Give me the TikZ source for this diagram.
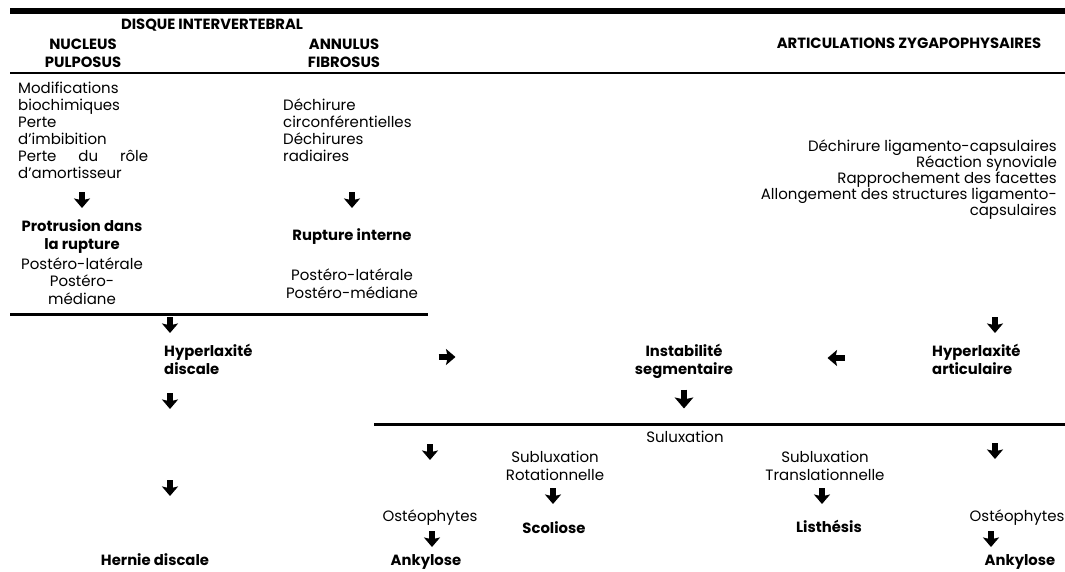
\documentclass[tikz,border=0pt]{standalone}
\usepackage{fontspec}
\setmainfont{Poppins}
\usetikzlibrary{arrows.meta}
\newcommand\gdown[3]{\coordinate (#1s) at (#2,#3-8); \coordinate (#1e) at (#2,#3+8); \draw[glyph] (#1s) -- (#1e);}
\newcommand\gbig[3]{\coordinate (#1s) at (#2,#3-9.5); \coordinate (#1e) at (#2,#3+9.5); \draw[glyphbig] (#1s) -- (#1e);}
\newcommand\gright[3]{\coordinate (#1s) at (#2-8.5,#3); \coordinate (#1e) at (#2+8.5,#3); \draw[glyph] (#1s) -- (#1e);}
\newcommand\gleft[3]{\coordinate (#1s) at (#2+8.5,#3); \coordinate (#1e) at (#2-8.5,#3); \draw[glyph] (#1s) -- (#1e);}
\tikzset{
 reg/.style={inner sep=0pt, anchor=base, font=\fontsize{15}{17}\selectfont},
 regl/.style={reg, anchor=base west},
 regr/.style={reg, anchor=base east},
 bold/.style={inner sep=0pt, anchor=base, font=\fontsize{14.8}{17}\selectfont\bfseries},
 boldl/.style={bold, anchor=base west},
 rule/.style={line width=2.2pt},
 glyph/.style={line width=5.4pt, -{Stealth[width=16pt,length=9.5pt,inset=1.8pt]}},
 glyphbig/.style={line width=6.2pt, -{Stealth[width=18.5pt,length=11pt,inset=2pt]}},
}
\begin{document}
\begin{tikzpicture}[x=1pt,y=-1pt]
\useasboundingbox (0,0) rectangle (1065,571);
% rules
\draw[line width=6pt] (10,11) -- (1065,11);
\draw[rule] (10,73) -- (1065,73);
\draw[rule] (10,314.5) -- (428,314.5);
\draw[rule] (374,424.5) -- (1065,424.5);
% headers
\node[bold] (disque) at (212,29) {DISQUE INTERVERTEBRAL};
\node[bold] (nuc1) at (83,49) {NUCLEUS};
\node[bold] (nuc2) at (83,67) {PULPOSUS};
\node[bold] (ann1) at (344,49) {ANNULUS};
\node[bold] (ann2) at (344,67) {FIBROSUS};
\node[bold] (artic) at (909,48) {ARTICULATIONS ZYGAPOPHYSAIRES};
% nucleus column
\node[regl] (n1) at (18,93) {Modifications};
\node[regl] (n2) at (18,110) {biochimiques};
\node[regl] (n3) at (18,127) {Perte};
\node[regl] (n4) at (18,144) {d’imbibition};
\node[regl] (n5) at (18,161) {\makebox[130pt][s]{Perte du rôle}};
\node[regl] (n6) at (18,178) {d’amortisseur};
\gdown{ga}{82}{200}
\node[bold] (prot1) at (82,231) {Protrusion dans};
\node[bold] (prot2) at (82,249) {la rupture};
\node[reg] (p1) at (82,269) {Postéro-latérale};
\node[reg] (p2) at (82,286) {Postéro-};
\node[reg] (p3) at (82,304) {médiane};
% annulus column
\node[regl] (a1) at (283,110) {Déchirure};
\node[regl] (a2) at (283,127) {circonférentielles};
\node[regl] (a3) at (283,144) {Déchirures};
\node[regl] (a4) at (283,161) {radiaires};
\gdown{gb}{352}{200}
\node[bold] (rupt) at (352,240) {Rupture interne};
\node[reg] (r1) at (352,280) {Postéro-latérale};
\node[reg] (r2) at (352,298) {Postéro-médiane};
% articulations column
\node[regr] (z1) at (1057,151) {Déchirure ligamento-capsulaires};
\node[regr] (z2) at (1057,167) {Réaction synoviale};
\node[regr] (z3) at (1057,183) {Rapprochement des facettes};
\node[regr] (z4) at (1057,199) {Allongement des structures ligamento-};
\node[regr] (z5) at (1057,215) {capsulaires};
% middle row
\gdown{gc}{170}{325}
\node[boldl] (hd1) at (164,356) {Hyperlaxité};
\node[boldl] (hd2) at (164,374) {discale};
\gright{gd}{447}{357}
\node[bold] (is1) at (684,356) {Instabilité};
\node[bold] (is2) at (684,374) {segmentaire};
\gleft{ge}{836}{358}
\gdown{gf}{995}{325}
\node[boldl] (ha1) at (932,356) {Hyperlaxité};
\node[boldl] (ha2) at (932,374) {articulaire};
\gdown{gg}{170}{401}
\gbig{gh}{684}{399}
% lower part
\node[reg] (sul) at (685,442) {Suluxation};
\gdown{gi}{430}{452}
\gdown{gj}{995}{451}
\node[reg] (sr1) at (555,462) {Subluxation};
\node[reg] (sr2) at (555,480) {Rotationnelle};
\gdown{gk}{553}{496}
\node[bold] (scol) at (554,533) {Scoliose};
\node[reg] (st1) at (825,462) {Subluxation};
\node[reg] (st2) at (825,480) {Translationnelle};
\gdown{gl}{822}{496}
\node[bold] (list) at (829,532) {Listhésis};
\gdown{gm}{170}{488}
\node[bold] (hern) at (155,565) {Hernie discale};
\node[reg] (os1) at (430,521) {Ostéophytes};
\gdown{gn}{432}{539}
\node[bold] (ank1) at (426,565) {Ankylose};
\node[reg] (os2) at (1017,521) {Ostéophytes};
\gdown{go}{991}{539}
\node[bold] (ank2) at (1020,565) {Ankylose};
\end{tikzpicture}
\end{document}
